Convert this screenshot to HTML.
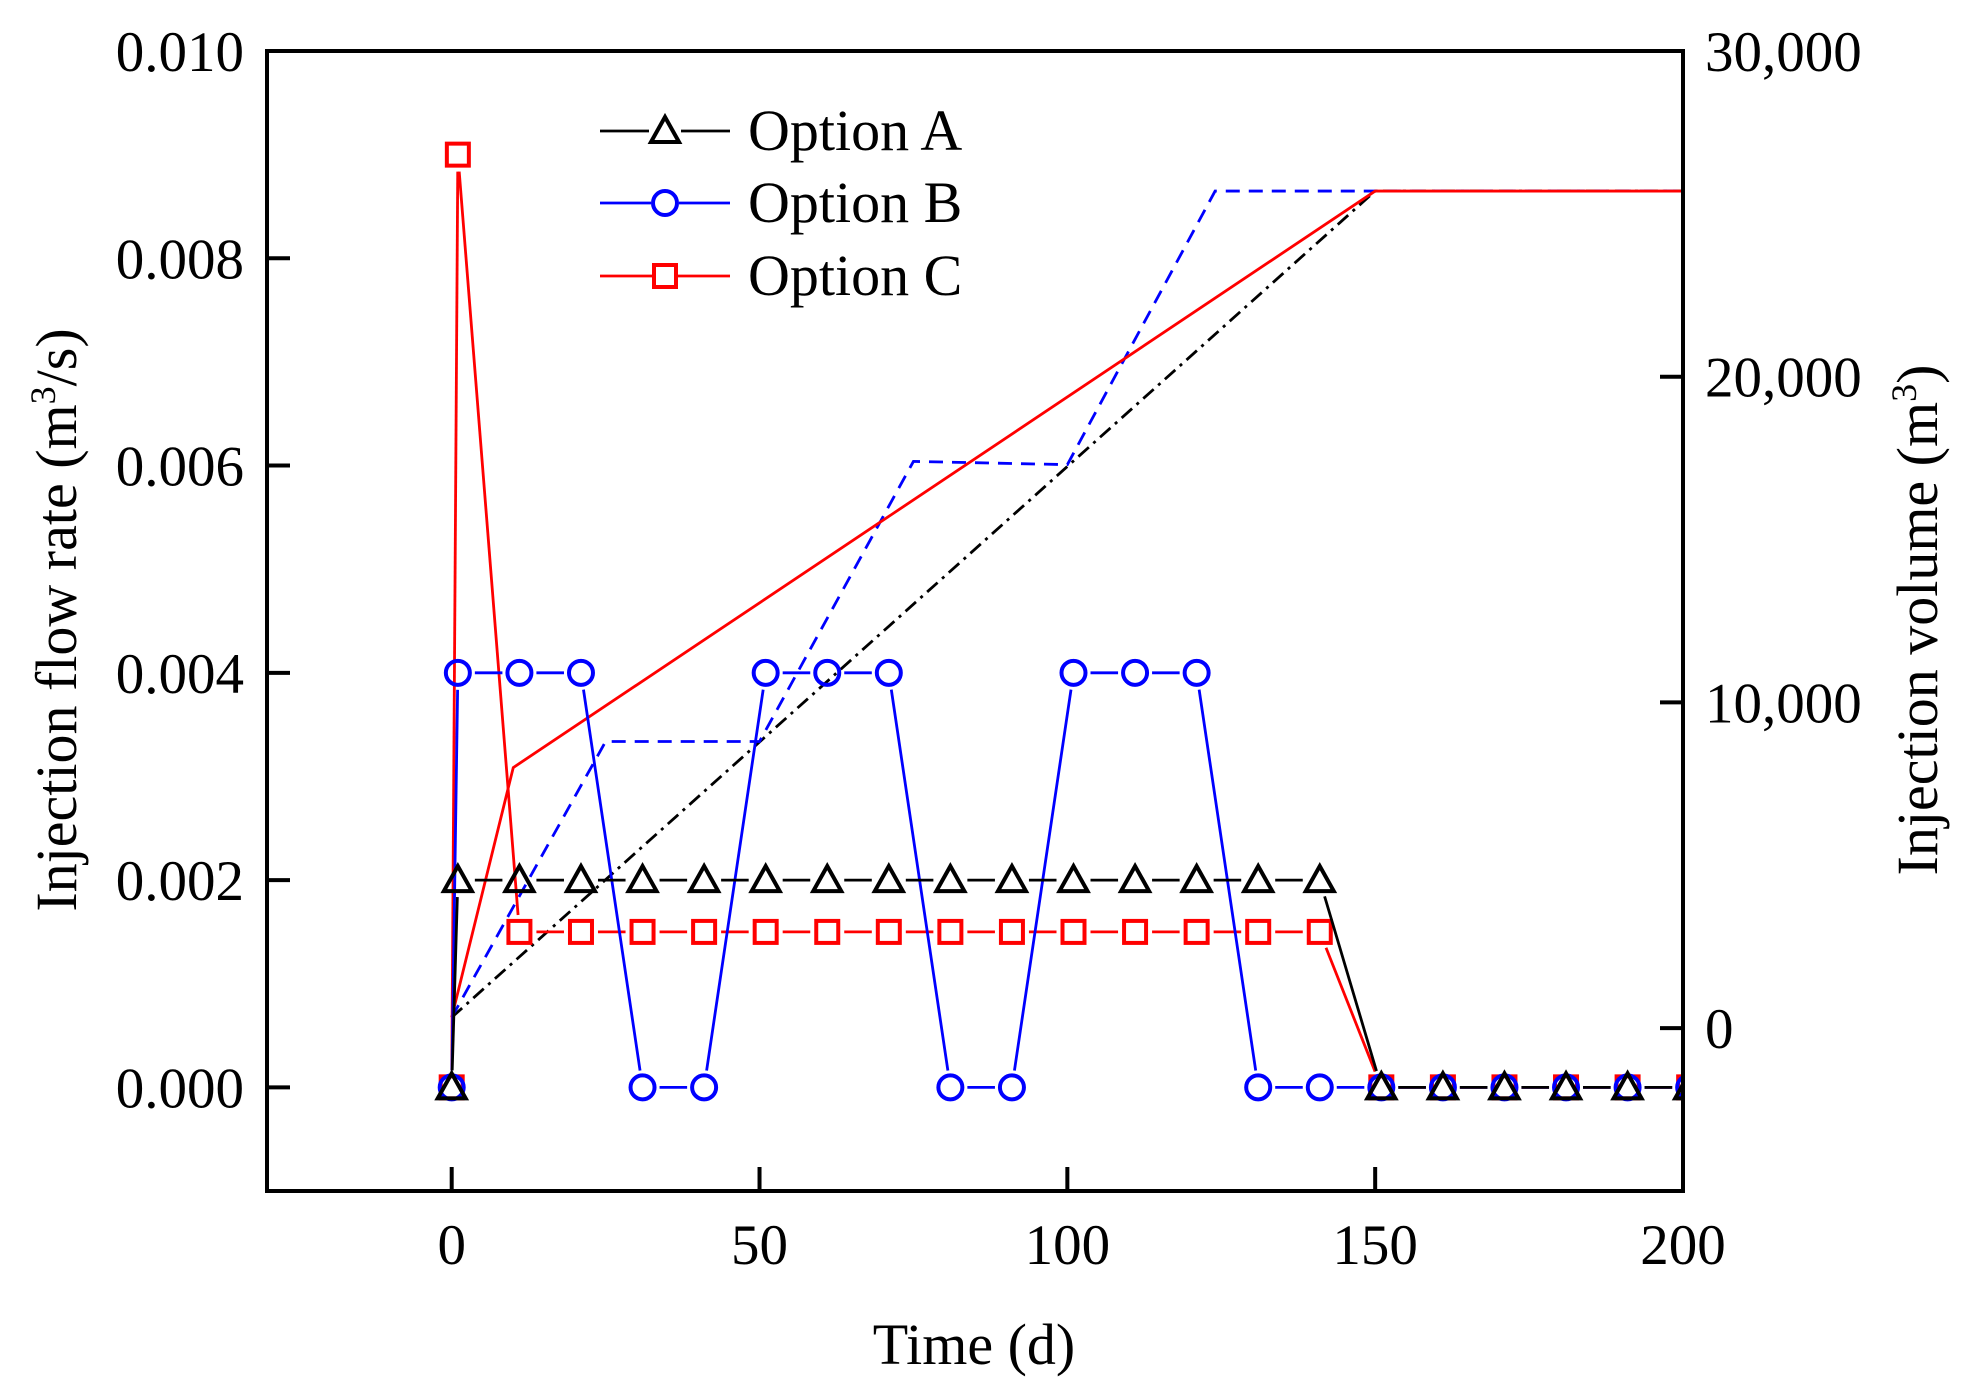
<!DOCTYPE html>
<html><head><meta charset="utf-8"><style>
html,body{margin:0;padding:0;background:#fff;}
svg text{font-family:"Liberation Serif",serif;fill:#000;}
</style></head><body>
<svg id="chart" width="1978" height="1386" viewBox="0 0 1978 1386" xmlns="http://www.w3.org/2000/svg">
<defs><clipPath id="plotclip"><rect x="267" y="51" width="1416" height="1140"/></clipPath></defs>
<g id="marks" clip-path="url(#plotclip)"></g>
<g id="axes"></g>
</svg>
<script>
// ---- data ----
const daysA = [0,1,11,21,31,41,51,61,71,81,91,101,111,121,131,141,151,161,171,181,191,201];
const rateA = [0,0.002,0.002,0.002,0.002,0.002,0.002,0.002,0.002,0.002,0.002,0.002,0.002,0.002,0.002,0.002,0,0,0,0,0,0];
const daysB = [0,1,11,21,31,41,51,61,71,81,91,101,111,121,131,141,151,161,171,181,191,201];
const rateB = [0,0.004,0.004,0.004,0,0,0.004,0.004,0.004,0,0,0.004,0.004,0.004,0,0,0,0,0,0,0,0];
const daysC = [0,1,11,21,31,41,51,61,71,81,91,101,111,121,131,141,151,161,171,181,191,201];
const rateC = [0,0.009,0.0015,0.0015,0.0015,0.0015,0.0015,0.0015,0.0015,0.0015,0.0015,0.0015,0.0015,0.0015,0.0015,0.0015,0,0,0,0,0,0];
const volDaysA = [0,150,200];
const volA = [330,25700,25700];
const volDaysB = [0,25,50,75,100,124,200];
const volB = [330,8800,8800,17400,17300,25700,25700];
const volDaysC = [0,10,150,200];
const volC = [330,8000,25700,25700];
const xTicks = [0,50,100,150,200];
const yTicksL = [0.000,0.002,0.004,0.006,0.008,0.010];
const yTickLabelsL = ["0.000","0.002","0.004","0.006","0.008","0.010"];
const yTicksR = [0,10000,20000,30000];
const yTickLabelsR = ["0","10,000","20,000","30,000"];

// ---- scales ----
const L=267,R=1683,T=51,B=1191;
const X=d=>L+(d+30)/230*(R-L);
const YL=v=>B-(v+0.001)/0.011*(B-T);
const YR=v=>B-(v+5000)/35000*(B-T);
const NS="http://www.w3.org/2000/svg";
const marks=document.getElementById('marks');
const axes=document.getElementById('axes');
function mk(tag,attrs,parent){const e=document.createElementNS(NS,tag);for(const k in attrs)e.setAttribute(k,attrs[k]);parent.appendChild(e);return e;}

function volLine(ds,vs,color,dash,name){
  const p=mk('polyline',{points:ds.map((d,i)=>X(d)+','+YR(vs[i])).join(' '),fill:'none',stroke:color,'stroke-width':2.8,'stroke-dasharray':dash},marks);
  
  
}
volLine(volDaysA,volA,'#000','14,6,3,6','volume-line-a');
volLine(volDaysB,volB,'#0000ff','14,9','volume-line-b');
volLine(volDaysC,volC,'#ff0000','none','volume-line-c');

function marker(type,x,y,color,parent){
  let e;
  if(type==='tri') e=mk('polygon',{points:`${x},${y-14} ${x-14},${y+11} ${x+14},${y+11}`,fill:'none',stroke:color,'stroke-width':4},parent);
  else if(type==='circ') e=mk('circle',{cx:x,cy:y,r:12,fill:'none',stroke:color,'stroke-width':4},parent);
  else e=mk('rect',{x:x-11,y:y-11,width:22,height:22,fill:'none',stroke:color,'stroke-width':4},parent);
  return e;
}
function rateSeries(ds,vs,color,type,name){
  const g=mk('g',{},marks);
  
  
  const pts=ds.map((d,i)=>[X(d),YL(vs[i])]);
  for(let i=0;i<pts.length-1;i++){
    const [x1,y1]=pts[i],[x2,y2]=pts[i+1];
    const len=Math.hypot(x2-x1,y2-y1); const gap=17;
    if(len<=2*gap) continue;
    const ux=(x2-x1)/len,uy=(y2-y1)/len;
    mk('line',{x1:x1+ux*gap,y1:y1+uy*gap,x2:x2-ux*gap,y2:y2-uy*gap,stroke:color,'stroke-width':2.8},g);
  }
  pts.forEach(([x,y])=>{const m=marker(type,x,y,color,g);
    
    });
}
rateSeries(daysC,rateC,'#ff0000','sq','rate-series-c');
rateSeries(daysB,rateB,'#0000ff','circ','rate-series-b');
rateSeries(daysA,rateA,'#000','tri','rate-series-a');

const fr=mk('rect',{x:L,y:T,width:R-L,height:B-T,fill:'none',stroke:'#000','stroke-width':4},axes);


xTicks.forEach(t=>{
  mk('line',{x1:X(t),y1:B,x2:X(t),y2:B-24,stroke:'#000','stroke-width':4},axes);
  const tx=mk('text',{x:X(t),y:1264,'font-size':57,'text-anchor':'middle'},axes);tx.textContent=t;
  
  
});
yTicksL.forEach((t,i)=>{
  mk('line',{x1:L,y1:YL(t),x2:L+23,y2:YL(t),stroke:'#000','stroke-width':4},axes);
  const tx=mk('text',{x:244,y:YL(t)+20,'font-size':57,'text-anchor':'end'},axes);tx.textContent=yTickLabelsL[i];
  
  
});
yTicksR.forEach((t,i)=>{
  mk('line',{x1:R,y1:YR(t),x2:R-23,y2:YR(t),stroke:'#000','stroke-width':4},axes);
  const tx=mk('text',{x:1705,y:YR(t)+20,'font-size':57,'text-anchor':'start'},axes);tx.textContent=yTickLabelsR[i];
  
  
});
</script>
<svg style="position:absolute;left:0;top:0" width="1978" height="1386" xmlns="http://www.w3.org/2000/svg">
<text x="974" y="1364" font-size="58" text-anchor="middle">Time (d)</text>
<text transform="translate(76,620) rotate(-90)" font-size="58" text-anchor="middle">Injection flow rate (m<tspan font-size="36" dy="-21">3</tspan><tspan dy="21">/s)</tspan></text>
<text transform="translate(1937,620) rotate(-90)" font-size="58" text-anchor="middle">Injection volume (m<tspan font-size="36" dy="-21">3</tspan><tspan dy="21">)</tspan></text>
<g>
 <g>
  <line x1="600" y1="131" x2="649" y2="131" stroke="#000" stroke-width="2.8"/><line x1="681" y1="131" x2="730" y2="131" stroke="#000" stroke-width="2.8"/>
  <polygon points="665,117 651,142 679,142" fill="none" stroke="#000" stroke-width="4"/>
  <text x="748" y="150" font-size="58">Option A</text>
 </g>
 <g>
  <line x1="600" y1="203" x2="651" y2="203" stroke="#0000ff" stroke-width="2.8"/><line x1="679" y1="203" x2="730" y2="203" stroke="#0000ff" stroke-width="2.8"/>
  <circle cx="665" cy="203" r="12" fill="none" stroke="#0000ff" stroke-width="4"/>
  <text x="748" y="222" font-size="58">Option B</text>
 </g>
 <g>
  <line x1="600" y1="276" x2="652" y2="276" stroke="#ff0000" stroke-width="2.8"/><line x1="678" y1="276" x2="730" y2="276" stroke="#ff0000" stroke-width="2.8"/>
  <rect x="654" y="265" width="22" height="22" fill="none" stroke="#ff0000" stroke-width="4"/>
  <text x="748" y="295" font-size="58">Option C</text>
 </g>
</g>
</svg>
</body></html>
